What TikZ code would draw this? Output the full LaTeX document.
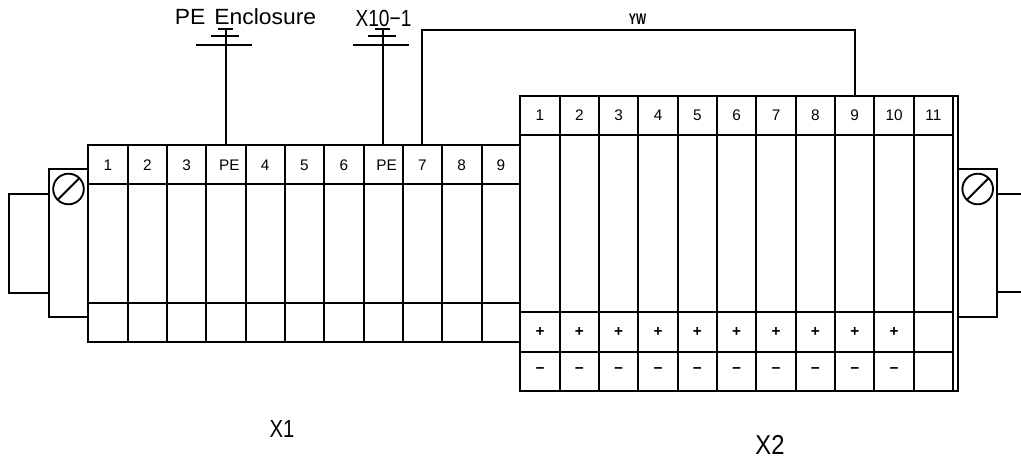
\documentclass[tikz,border=0pt]{standalone}
\usepackage{fontspec}
\setmainfont{Liberation Sans}
\tikzset{
  wire/.style={draw=black,line width=1.4pt,line cap=rect},
  celltext/.style={font=\fontsize{11.5}{12}\selectfont,inner sep=0pt,text=black},
  bigtext/.style={font=\fontsize{16.5}{18}\selectfont,inner sep=0pt,text=black},
  tagtext/.style={font=\fontsize{11.5}{12}\selectfont\bfseries,inner sep=0pt,text=black},
}
\begin{document}
\begin{tikzpicture}[x=0.75pt,y=-0.75pt]
\useasboundingbox (0,0) rectangle (1021,459);
% X1 strip
\draw[wire] (88.3,145) rectangle (520.3,341.7);
\foreach \i in {1,...,10} \draw[wire] ({88.3+39.33*\i},145) -- ({88.3+39.33*\i},341.7);
\draw[wire] (88.3,184) -- (520.3,184);
\draw[wire] (88.3,302.7) -- (520.3,302.7);
% X1 clamp
\draw[wire] (88.3,169.3) -- (49,169.3) -- (49,317.3) -- (88.3,317.3);
\draw[wire] (49,194) -- (9,194) -- (9,292.7) -- (49,292.7);
\draw[wire] (68.5,189) circle (15.3);
\draw[wire] (58,199.5) -- (79,178.5);
% X2 strip
\draw[wire] (520.3,95.7) rectangle (958,391.3);
\foreach \i in {1,...,11} \draw[wire] ({520.3+39.34*\i},95.7) -- ({520.3+39.34*\i},391.3);
\draw[wire] (520.3,135) -- (953,135);
\draw[wire] (520.3,312.3) -- (953,312.3);
\draw[wire] (520.3,351.7) -- (953,351.7);
% X2 clamp
\draw[wire] (958,169.3) -- (997.3,169.3) -- (997.3,317.3) -- (958,317.3);
\draw[wire] (997.3,194) -- (1021,194);
\draw[wire] (997.3,292) -- (1021,292);
\draw[wire] (977.7,189) circle (15.3);
\draw[wire] (967.2,199.5) -- (988.2,178.5);
% X1 labels
\foreach \t/\o [count=\i from 0] in {1/0,2/0,3/0,PE/3.5,4/0,5/0,6/0,PE/3.5,7/0,8/0,9/0}
  \node[celltext] (xa\i) at ({108+39.3*\i+\o},165) {\t};
% X2 labels
\foreach \t [count=\i from 0] in {1,2,3,4,5,6,7,8,9,10,11}
  \node[celltext] (xb\i) at ({540+39.34*\i},115.5) {\t};
\foreach \i in {0,...,9} {
  \node[celltext] (xp\i) at ({540+39.34*\i},332.5) {\textbf{+}};
  \node[celltext] (xm\i) at ({540+39.34*\i},370.5) {\textbf{\textminus}};
}
% Top connection points
\coordinate (pa) at (225.7,145);
\coordinate (pb) at (382.7,145);
\coordinate (pc) at (422.3,145);
\coordinate (pd) at (855,95.7);
\coordinate (ga) at (225.7,29);
\coordinate (gb) at (382.7,29);
% Earth symbols
\draw[wire] (pa) -- (ga);
\draw[wire] (196.7,44.7) -- (250.7,44.7);
\draw[wire] (212,36) -- (238,36);
\draw[wire] (219,29) -- (232,29);
\draw[wire] (pb) -- (gb);
\draw[wire] (354,44.7) -- (408,44.7);
\draw[wire] (369,36) -- (395,36);
\draw[wire] (376,29) -- (389,29);
% YW wire
\draw[wire] (pc) |- (855,30) -- (pd);
\node[tagtext,xscale=0.7] (yw) at (637.5,19) {YW};
% Text
\node[bigtext,xscale=1.04] (pe) at (245.5,17) {PE\hspace{2pt} Enclosure};
\node[bigtext,xscale=0.82,font=\fontsize{17.5}{18}\selectfont] (xt) at (383.5,18.7) {X10\textminus1};
\node[bigtext,xscale=0.82,font=\fontsize{18.5}{20}\selectfont] (x1) at (282,429) {X1};
\node[bigtext,xscale=0.87,font=\fontsize{20.5}{22}\selectfont] (x2) at (770,445) {X2};
\end{tikzpicture}
\end{document}
